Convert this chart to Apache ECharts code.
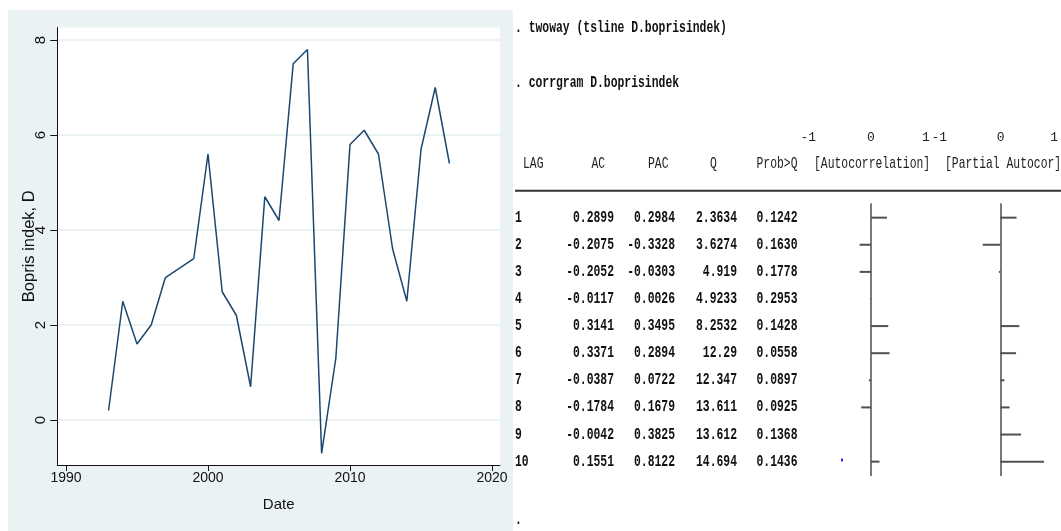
<!DOCTYPE html>
<html>
<head>
<meta charset="utf-8">
<script src="https://cdn.jsdelivr.net/npm/echarts@6/dist/echarts.min.js"></script>
<style>
html,body{margin:0;padding:0;background:#fff;}
#chart{width:1061px;height:531px;}
</style>
</head>
<body>
<div id="chart"></div>
<script>
// ---- Left panel: time series of D.boprisindek ----
const years = [1993,1994,1995,1996,1997,1998,1999,2000,2001,2002,2003,2004,2005,2006,2007,2008,2009,2010,2011,2012,2013,2014,2015,2016,2017];
const dBopris = [0.2,2.5,1.6,2.0,3.0,3.2,3.4,5.6,2.7,2.2,0.7,4.7,4.2,7.5,7.8,-0.7,1.3,5.8,6.1,5.6,3.6,2.5,5.7,7.0,5.4];
const xTickValues = [1990,2000,2010,2020];
const yTickValues = [0,2,4,6,8];
const xTitle = 'Date';
const yTitle = 'Bopris indek, D';

// ---- Right panel: corrgram output ----
const commands = ['. twoway (tsline D.boprisindek)', '. corrgram D.boprisindek'];
const lags = [1,2,3,4,5,6,7,8,9,10];
const ac   = [0.2899,-0.2075,-0.2052,-0.0117,0.3141,0.3371,-0.0387,-0.1784,-0.0042,0.1551];
const pac  = [0.2984,-0.3328,-0.0303,0.0026,0.3495,0.2894,0.0722,0.1679,0.3825,0.8122];
const qStat = ['2.3634','3.6274','4.919','4.9233','8.2532','12.29','12.347','13.611','13.612','14.694'];
const probQ = [0.1242,0.1630,0.1778,0.2953,0.1428,0.0558,0.0897,0.0925,0.1368,0.1436];
const headers = ['LAG','AC','PAC','Q','Prob>Q','[Autocorrelation]','[Partial Autocor]'];
const corrTicks = [-1,0,1];

const chart = echarts.init(document.getElementById('chart'), null, {renderer:'canvas'});

const narrow = "'Liberation Sans Narrow','Arial Narrow','Liberation Sans',Arial,sans-serif";
const sans = "'Liberation Sans',Arial,sans-serif";
const mono = "'Liberation Mono','DejaVu Sans Mono',monospace";

const corrXAxis = (gi) => ({
  gridIndex: gi, type:'value', min:-1, max:1, position:'top',
  axisLine:{show:false}, axisTick:{show:false}, splitLine:{show:false},
  axisLabel:{show:true, customValues: corrTicks, margin:60, fontFamily:mono, fontSize:13, color:'#222',
    formatter: v => String(v),
    alignMinLabel:'right', alignMaxLabel:'center', showMinLabel:true, showMaxLabel:true}
});
const corrYAxis = (gi) => ({
  gridIndex: gi, type:'category', data: lags.map(String), inverse:true,
  axisLine:{show:true, onZero:true, lineStyle:{color:'#7a7a7a', width:2}},
  axisTick:{show:false}, axisLabel:{show:false}, splitLine:{show:false}
});

chart.setOption({
  animation:false,
  backgroundColor:'#ffffff',
  grid:[
    {left:57.3, top:27.5, width:442.7, height:437.5, show:true, backgroundColor:'#ffffff', borderWidth:0, containLabel:false},
    {left:816, top:204.1, width:110, height:271.1, containLabel:false},
    {left:947, top:204.1, width:110, height:271.1, containLabel:false}
  ],
  xAxis:[
    {gridIndex:0, type:'value', min:1989.39, max:2020.56,
     name:xTitle, nameLocation:'middle', nameGap:32, nameMoveOverlap:false,
     nameTextStyle:{fontFamily:narrow, fontSize:15, color:'#111'},
     axisLine:{show:true, onZero:false, lineStyle:{color:'#111', width:1}},
     axisTick:{show:true, length:6, customValues:xTickValues, lineStyle:{color:'#111'}},
     axisLabel:{show:true, customValues:xTickValues, margin:6, fontFamily:narrow, fontSize:14, color:'#111',
       formatter: v => String(v)},
     splitLine:{show:false}},
    corrXAxis(1), corrXAxis(2)
  ],
  yAxis:[
    {gridIndex:0, type:'value', min:-0.947, max:8.263,
     name:yTitle, nameLocation:'middle', nameGap:19, nameRotate:90, nameMoveOverlap:false,
     nameTextStyle:{fontFamily:sans, fontSize:16.5, color:'#111'},
     axisLine:{show:true, onZero:false, lineStyle:{color:'#111', width:1}},
     axisTick:{show:true, length:7, customValues:yTickValues, lineStyle:{color:'#111'}},
     axisLabel:{show:true, customValues:yTickValues, rotate:90, margin:9, fontFamily:sans, fontSize:15, color:'#111',
       formatter: v => String(v)},
     splitLine:{show:true, lineStyle:{color:'#e4eef0', width:1.5}}},
    corrYAxis(1), corrYAxis(2)
  ],
  series:[
    {type:'line', xAxisIndex:0, yAxisIndex:0, data: years.map((y,i)=>[y, dBopris[i]]),
     showSymbol:false, symbol:'none', lineStyle:{color:'#1a476f', width:1.5}, itemStyle:{color:'#1a476f'}},
    {type:'bar', xAxisIndex:1, yAxisIndex:1, data: ac, barWidth:2, itemStyle:{color:'#505050'}},
    {type:'bar', xAxisIndex:2, yAxisIndex:2, data: pac, barWidth:2, itemStyle:{color:'#505050'}}
  ]
});

// ---- table text, positioned on the corrgram's category rows ----
const g = [];
g.push({type:'rect', z:-10, silent:true, shape:{x:8, y:10, width:505, height:521}, style:{fill:'#eaf2f3'}});
const boldText = (txt, x, y, align) => ({
  type:'text', x:x, y:y, scaleY:1.38, z:10, silent:true,
  style:{text:txt, font:"bold 11.4px 'Liberation Mono', monospace", fill:'#111', align:align, verticalAlign:'middle'}
});
const regText = (txt, x, y, align) => ({
  type:'text', x:x, y:y, scaleY:1.45, z:10, silent:true,
  style:{text:txt, font:"11.4px 'Liberation Mono', monospace", fill:'#222', align:align, verticalAlign:'middle'}
});
g.push(boldText(commands[0], 515, 28, 'left'));
g.push(boldText(commands[1], 515, 83, 'left'));
const headerX = [523, 591.5, 648, 710, 756.5, 814, 945];
headers.forEach((h,i)=> g.push(regText(h, headerX[i], 163.5, 'left')));
g.push({type:'line', silent:true, shape:{x1:515, y1:190.7, x2:1061, y2:190.7}, style:{stroke:'#333', lineWidth:2}});
const fmt4 = v => v.toFixed(4);
lags.forEach((lag,i)=>{
  const y = chart.convertToPixel({yAxisIndex:1}, i);
  g.push(boldText(String(lag), 515, y, 'left'));
  g.push(boldText(fmt4(ac[i]), 614, y, 'right'));
  g.push(boldText(fmt4(pac[i]), 675, y, 'right'));
  g.push(boldText(qStat[i], 737, y, 'right'));
  g.push(boldText(fmt4(probQ[i]), 797.5, y, 'right'));
});
g.push({type:'rect', silent:true, shape:{x:841, y:458.5, width:2, height:3}, style:{fill:'#2b2bff'}});
g.push(boldText('.', 515, 520, 'left'));
chart.setOption({graphic:g});
</script>
</body>
</html>
